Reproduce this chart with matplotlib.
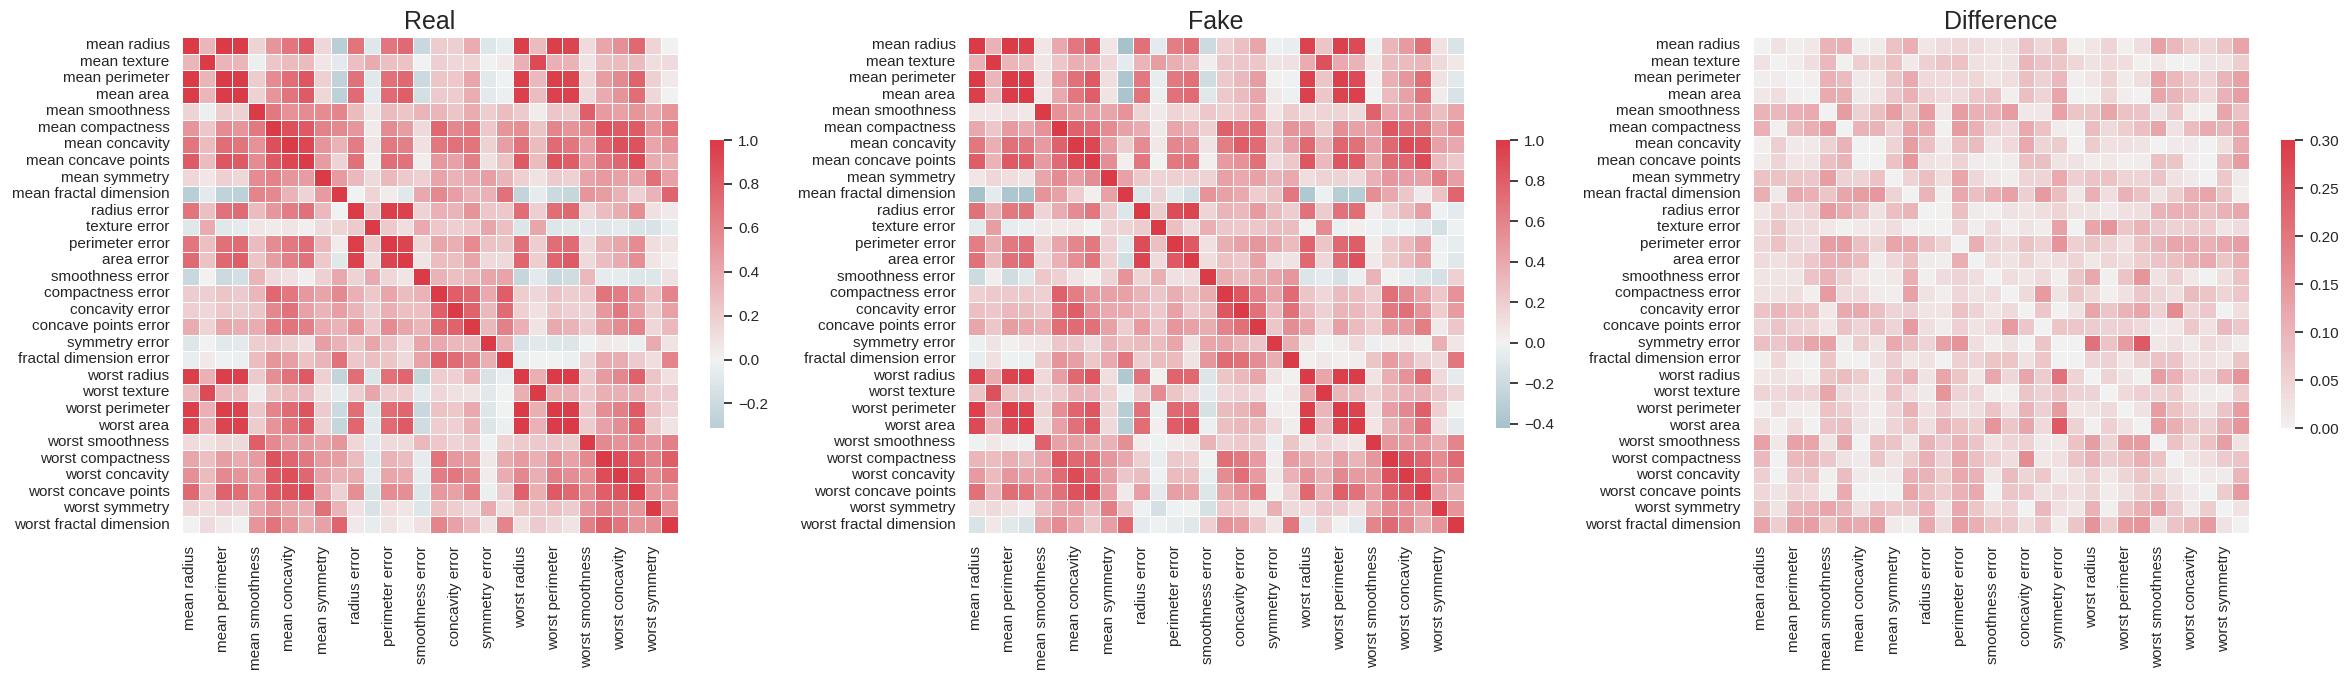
import numpy as np
import pandas as pd
import matplotlib
matplotlib.use("Agg")
import matplotlib.pyplot as plt
import seaborn as sns

FEATURES = [
    "mean radius", "mean texture", "mean perimeter", "mean area", "mean smoothness",
    "mean compactness", "mean concavity", "mean concave points", "mean symmetry",
    "mean fractal dimension", "radius error", "texture error", "perimeter error",
    "area error", "smoothness error", "compactness error", "concavity error",
    "concave points error", "symmetry error", "fractal dimension error",
    "worst radius", "worst texture", "worst perimeter", "worst area",
    "worst smoothness", "worst compactness", "worst concavity",
    "worst concave points", "worst symmetry", "worst fractal dimension",
]

# correlation of the real data, one row per feature
REAL = [
    [1.000, 0.324, 0.998, 0.987, 0.171, 0.506, 0.677, 0.823, 0.148, -0.312, 0.679, -0.097, 0.674, 0.736, -0.223, 0.206, 0.194, 0.376, -0.104, -0.043, 0.970, 0.297, 0.965, 0.941, 0.120, 0.413, 0.527, 0.744, 0.164, 0.007],
    [0.324, 1.000, 0.330, 0.321, -0.023, 0.237, 0.302, 0.293, 0.071, -0.076, 0.276, 0.386, 0.282, 0.260, 0.007, 0.192, 0.143, 0.164, 0.009, 0.054, 0.353, 0.912, 0.358, 0.344, 0.078, 0.278, 0.301, 0.295, 0.105, 0.119],
    [0.998, 0.330, 1.000, 0.987, 0.207, 0.557, 0.716, 0.851, 0.183, -0.261, 0.692, -0.087, 0.693, 0.745, -0.203, 0.251, 0.228, 0.407, -0.082, -0.005, 0.969, 0.303, 0.970, 0.942, 0.151, 0.456, 0.564, 0.771, 0.189, 0.051],
    [0.987, 0.321, 0.987, 1.000, 0.177, 0.499, 0.686, 0.823, 0.151, -0.283, 0.733, -0.066, 0.727, 0.800, -0.167, 0.213, 0.208, 0.372, -0.072, -0.020, 0.963, 0.287, 0.959, 0.959, 0.124, 0.390, 0.513, 0.722, 0.144, 0.004],
    [0.171, -0.023, 0.207, 0.177, 1.000, 0.659, 0.522, 0.554, 0.558, 0.585, 0.301, 0.068, 0.296, 0.247, 0.332, 0.319, 0.248, 0.381, 0.201, 0.284, 0.213, 0.036, 0.239, 0.207, 0.805, 0.472, 0.435, 0.503, 0.394, 0.499],
    [0.506, 0.237, 0.557, 0.499, 0.659, 1.000, 0.883, 0.831, 0.603, 0.565, 0.497, 0.046, 0.549, 0.456, 0.135, 0.739, 0.571, 0.642, 0.230, 0.507, 0.535, 0.248, 0.590, 0.510, 0.566, 0.866, 0.816, 0.816, 0.510, 0.687],
    [0.677, 0.302, 0.716, 0.686, 0.522, 0.883, 1.000, 0.921, 0.501, 0.337, 0.632, 0.076, 0.660, 0.617, 0.099, 0.670, 0.691, 0.683, 0.178, 0.449, 0.688, 0.300, 0.730, 0.676, 0.449, 0.755, 0.884, 0.861, 0.409, 0.515],
    [0.823, 0.293, 0.851, 0.823, 0.554, 0.831, 0.921, 1.000, 0.462, 0.167, 0.698, 0.021, 0.711, 0.690, 0.028, 0.490, 0.439, 0.616, 0.095, 0.258, 0.830, 0.293, 0.856, 0.810, 0.453, 0.667, 0.752, 0.910, 0.376, 0.369],
    [0.148, 0.071, 0.183, 0.151, 0.558, 0.603, 0.501, 0.462, 1.000, 0.480, 0.303, 0.128, 0.314, 0.224, 0.187, 0.422, 0.343, 0.393, 0.449, 0.332, 0.186, 0.091, 0.219, 0.177, 0.427, 0.473, 0.434, 0.430, 0.700, 0.438],
    [-0.312, -0.076, -0.261, -0.283, 0.585, 0.565, 0.337, 0.167, 0.480, 1.000, 0.000, 0.164, 0.040, -0.090, 0.402, 0.560, 0.447, 0.341, 0.345, 0.688, -0.254, -0.051, -0.205, -0.232, 0.505, 0.459, 0.346, 0.175, 0.334, 0.767],
    [0.679, 0.276, 0.692, 0.733, 0.301, 0.497, 0.632, 0.698, 0.303, 0.000, 1.000, 0.213, 0.973, 0.952, 0.165, 0.356, 0.332, 0.513, 0.241, 0.228, 0.715, 0.195, 0.720, 0.752, 0.142, 0.287, 0.381, 0.531, 0.095, 0.050],
    [-0.097, 0.386, -0.087, -0.066, 0.068, 0.046, 0.076, 0.021, 0.128, 0.164, 0.213, 1.000, 0.223, 0.112, 0.397, 0.232, 0.195, 0.230, 0.412, 0.280, -0.112, 0.409, -0.102, -0.083, -0.074, -0.092, -0.069, -0.120, -0.128, -0.046],
    [0.674, 0.282, 0.693, 0.727, 0.296, 0.549, 0.660, 0.711, 0.314, 0.040, 0.973, 0.223, 1.000, 0.938, 0.151, 0.416, 0.362, 0.556, 0.266, 0.244, 0.697, 0.200, 0.721, 0.731, 0.131, 0.342, 0.419, 0.555, 0.110, 0.085],
    [0.736, 0.260, 0.745, 0.800, 0.247, 0.456, 0.617, 0.690, 0.224, -0.090, 0.952, 0.112, 0.938, 1.000, 0.075, 0.285, 0.271, 0.416, 0.134, 0.127, 0.757, 0.196, 0.761, 0.811, 0.125, 0.283, 0.385, 0.538, 0.074, 0.018],
    [-0.223, 0.007, -0.203, -0.167, 0.332, 0.135, 0.099, 0.028, 0.187, 0.402, 0.165, 0.397, 0.151, 0.075, 1.000, 0.337, 0.269, 0.328, 0.414, 0.427, -0.231, -0.075, -0.217, -0.182, 0.314, -0.056, -0.058, -0.102, -0.107, 0.101],
    [0.206, 0.192, 0.251, 0.213, 0.319, 0.739, 0.670, 0.490, 0.422, 0.560, 0.356, 0.232, 0.416, 0.285, 0.337, 1.000, 0.801, 0.744, 0.395, 0.803, 0.205, 0.143, 0.261, 0.199, 0.227, 0.679, 0.639, 0.483, 0.278, 0.591],
    [0.194, 0.143, 0.228, 0.208, 0.248, 0.571, 0.691, 0.439, 0.343, 0.447, 0.332, 0.195, 0.362, 0.271, 0.269, 0.801, 1.000, 0.772, 0.309, 0.727, 0.187, 0.100, 0.227, 0.188, 0.168, 0.485, 0.663, 0.440, 0.198, 0.439],
    [0.376, 0.164, 0.407, 0.372, 0.381, 0.642, 0.683, 0.616, 0.393, 0.341, 0.513, 0.230, 0.556, 0.416, 0.328, 0.744, 0.772, 1.000, 0.313, 0.611, 0.358, 0.087, 0.395, 0.342, 0.215, 0.453, 0.550, 0.602, 0.143, 0.311],
    [-0.104, 0.009, -0.082, -0.072, 0.201, 0.230, 0.178, 0.095, 0.449, 0.345, 0.241, 0.412, 0.266, 0.134, 0.414, 0.395, 0.309, 0.313, 1.000, 0.369, -0.128, -0.077, -0.104, -0.110, -0.013, 0.060, 0.037, -0.030, 0.389, 0.078],
    [-0.043, 0.054, -0.005, -0.020, 0.284, 0.507, 0.449, 0.258, 0.332, 0.688, 0.228, 0.280, 0.244, 0.127, 0.427, 0.803, 0.727, 0.611, 0.369, 1.000, -0.037, -0.003, -0.001, -0.023, 0.171, 0.390, 0.380, 0.215, 0.111, 0.591],
    [0.970, 0.353, 0.969, 0.963, 0.213, 0.535, 0.688, 0.830, 0.186, -0.254, 0.715, -0.112, 0.697, 0.757, -0.231, 0.205, 0.187, 0.358, -0.128, -0.037, 1.000, 0.360, 0.994, 0.984, 0.217, 0.476, 0.574, 0.787, 0.244, 0.093],
    [0.297, 0.912, 0.303, 0.287, 0.036, 0.248, 0.300, 0.293, 0.091, -0.051, 0.195, 0.409, 0.200, 0.196, -0.075, 0.143, 0.100, 0.087, -0.077, -0.003, 0.360, 1.000, 0.365, 0.346, 0.225, 0.361, 0.368, 0.360, 0.233, 0.219],
    [0.965, 0.358, 0.970, 0.959, 0.239, 0.590, 0.730, 0.856, 0.219, -0.205, 0.720, -0.102, 0.721, 0.761, -0.217, 0.261, 0.227, 0.395, -0.104, -0.001, 0.994, 0.365, 1.000, 0.978, 0.237, 0.529, 0.618, 0.816, 0.270, 0.139],
    [0.941, 0.344, 0.942, 0.959, 0.207, 0.510, 0.676, 0.810, 0.177, -0.232, 0.752, -0.083, 0.731, 0.811, -0.182, 0.199, 0.188, 0.342, -0.110, -0.023, 0.984, 0.346, 0.978, 1.000, 0.209, 0.438, 0.543, 0.747, 0.209, 0.080],
    [0.120, 0.078, 0.151, 0.124, 0.805, 0.566, 0.449, 0.453, 0.427, 0.505, 0.142, -0.074, 0.131, 0.125, 0.314, 0.227, 0.168, 0.215, -0.013, 0.171, 0.217, 0.225, 0.237, 0.209, 1.000, 0.568, 0.518, 0.548, 0.494, 0.618],
    [0.413, 0.278, 0.456, 0.390, 0.472, 0.866, 0.755, 0.667, 0.473, 0.459, 0.287, -0.092, 0.342, 0.283, -0.056, 0.679, 0.485, 0.453, 0.060, 0.390, 0.476, 0.361, 0.529, 0.438, 0.568, 1.000, 0.892, 0.801, 0.614, 0.810],
    [0.527, 0.301, 0.564, 0.513, 0.435, 0.816, 0.884, 0.752, 0.434, 0.346, 0.381, -0.069, 0.419, 0.385, -0.058, 0.639, 0.663, 0.550, 0.037, 0.380, 0.574, 0.368, 0.618, 0.543, 0.518, 0.892, 1.000, 0.855, 0.533, 0.687],
    [0.744, 0.295, 0.771, 0.722, 0.503, 0.816, 0.861, 0.910, 0.430, 0.175, 0.531, -0.120, 0.555, 0.538, -0.102, 0.483, 0.440, 0.602, -0.030, 0.215, 0.787, 0.360, 0.816, 0.747, 0.548, 0.801, 0.855, 1.000, 0.503, 0.511],
    [0.164, 0.105, 0.189, 0.144, 0.394, 0.510, 0.409, 0.376, 0.700, 0.334, 0.095, -0.128, 0.110, 0.074, -0.107, 0.278, 0.198, 0.143, 0.389, 0.111, 0.244, 0.233, 0.270, 0.209, 0.494, 0.614, 0.533, 0.503, 1.000, 0.538],
    [0.007, 0.119, 0.051, 0.004, 0.499, 0.687, 0.515, 0.369, 0.438, 0.767, 0.050, -0.046, 0.085, 0.018, 0.101, 0.591, 0.439, 0.311, 0.078, 0.591, 0.093, 0.219, 0.139, 0.080, 0.618, 0.810, 0.687, 0.511, 0.538, 1.000],
]

# correlation of the synthetic data, upper triangle (row i holds columns i+1 .. 29)
FAKE_UPPER = [
    [0.35, 0.99, 0.97, 0.07, 0.40, 0.67, 0.81, 0.07, -0.42, 0.70, -0.06, 0.63, 0.70, -0.20, 0.18, 0.27, 0.42, -0.02, -0.04, 0.95, 0.25, 0.96, 0.91, -0.01, 0.32, 0.47, 0.70, 0.09, -0.12],
    [0.32, 0.29, 0.07, 0.24, 0.36, 0.34, 0.15, -0.06, 0.33, 0.46, 0.36, 0.29, 0.03, 0.22, 0.24, 0.24, 0.08, 0.10, 0.38, 0.87, 0.39, 0.34, 0.06, 0.28, 0.30, 0.32, 0.13, 0.06],
    [0.98, 0.10, 0.47, 0.70, 0.83, 0.11, -0.38, 0.65, -0.05, 0.65, 0.70, -0.18, 0.22, 0.31, 0.46, 0.01, -0.01, 0.95, 0.25, 0.96, 0.91, 0.02, 0.36, 0.50, 0.72, 0.09, -0.08],
    [0.06, 0.39, 0.67, 0.80, 0.08, -0.39, 0.68, -0.03, 0.69, 0.73, -0.09, 0.22, 0.29, 0.42, 0.05, -0.02, 0.96, 0.24, 0.95, 0.96, 0.00, 0.29, 0.44, 0.68, 0.04, -0.13],
    [0.52, 0.47, 0.47, 0.42, 0.51, 0.16, 0.05, 0.16, 0.14, 0.23, 0.18, 0.23, 0.36, 0.07, 0.21, 0.14, 0.16, 0.16, 0.13, 0.78, 0.40, 0.44, 0.50, 0.27, 0.42],
    [0.78, 0.73, 0.55, 0.44, 0.38, 0.05, 0.41, 0.35, 0.19, 0.78, 0.69, 0.72, 0.24, 0.51, 0.45, 0.21, 0.53, 0.43, 0.44, 0.84, 0.73, 0.70, 0.41, 0.56],
    [0.92, 0.45, 0.20, 0.55, 0.06, 0.58, 0.53, 0.08, 0.63, 0.81, 0.73, 0.24, 0.45, 0.75, 0.33, 0.76, 0.70, 0.45, 0.74, 0.90, 0.86, 0.44, 0.40],
    [0.54, 0.02, 0.67, 0.00, 0.66, 0.68, 0.02, 0.48, 0.52, 0.70, 0.12, 0.23, 0.84, 0.31, 0.85, 0.82, 0.37, 0.74, 0.76, 0.91, 0.29, 0.23],
    [0.43, 0.22, 0.16, 0.19, 0.18, 0.17, 0.43, 0.39, 0.44, 0.33, 0.39, 0.11, 0.17, 0.17, 0.13, 0.35, 0.50, 0.45, 0.43, 0.63, 0.45],
    [-0.10, 0.17, -0.08, -0.17, 0.51, 0.43, 0.39, 0.20, 0.26, 0.67, -0.36, -0.02, -0.31, -0.31, 0.53, 0.40, 0.24, 0.05, 0.26, 0.76],
    [0.21, 0.89, 0.94, 0.16, 0.33, 0.31, 0.48, 0.29, 0.20, 0.69, 0.21, 0.69, 0.72, 0.04, 0.18, 0.28, 0.45, -0.01, -0.07],
    [0.27, 0.12, 0.36, 0.24, 0.22, 0.24, 0.28, 0.28, 0.01, 0.56, -0.03, 0.02, -0.01, -0.04, -0.01, -0.06, -0.15, -0.01],
    [0.83, 0.10, 0.37, 0.44, 0.50, 0.42, 0.30, 0.77, 0.25, 0.75, 0.81, 0.03, 0.22, 0.30, 0.45, -0.01, -0.05],
    [0.11, 0.26, 0.22, 0.44, 0.10, 0.08, 0.74, 0.15, 0.73, 0.87, 0.05, 0.20, 0.28, 0.42, 0.00, -0.09],
    [0.37, 0.29, 0.37, 0.42, 0.50, -0.11, -0.07, -0.14, -0.03, 0.34, 0.00, -0.04, -0.10, -0.14, 0.18],
    [0.84, 0.60, 0.42, 0.73, 0.25, 0.15, 0.29, 0.27, 0.18, 0.71, 0.55, 0.41, 0.23, 0.52],
    [0.70, 0.31, 0.70, 0.31, 0.175, 0.33, 0.31, 0.22, 0.65, 0.71, 0.51, 0.20, 0.47],
    [0.24, 0.54, 0.42, 0.14, 0.45, 0.30, 0.20, 0.47, 0.48, 0.63, 0.05, 0.24],
    [0.37, 0.08, 0.00, 0.04, 0.14, -0.03, 0.03, 0.05, 0.01, 0.36, 0.07],
    [0.01, 0.05, 0.02, 0.03, 0.25, 0.465, 0.35, 0.185, 0.13, 0.665],
    [0.41, 0.97, 0.98, 0.08, 0.37, 0.52, 0.74, 0.14, -0.06],
    [0.325, 0.29, 0.175, 0.30, 0.35, 0.35, 0.24, 0.16],
    [0.95, 0.10, 0.45, 0.57, 0.79, 0.195, 0.00],
    [0.07, 0.33, 0.47, 0.69, 0.10, -0.07],
    [0.49, 0.48, 0.47, 0.36, 0.59],
    [0.87, 0.77, 0.55, 0.735],
    [0.84, 0.52, 0.59],
    [0.44, 0.37],
    [0.51],
]

n = len(FEATURES)
real = np.array(REAL)
fake = np.eye(n)
for i, row in enumerate(FAKE_UPPER):
    fake[i, i + 1:] = row
    fake[i + 1:, i] = row
diff = np.abs(real - fake)

real_df = pd.DataFrame(real, index=FEATURES, columns=FEATURES)
fake_df = pd.DataFrame(fake, index=FEATURES, columns=FEATURES)
diff_df = pd.DataFrame(diff, index=FEATURES, columns=FEATURES)

plt.rcParams['font.family'] = ['Liberation Sans', 'DejaVu Sans']
plt.rcParams['text.color'] = '#262626'
plt.rcParams['xtick.color'] = '#262626'
plt.rcParams['ytick.color'] = '#262626'

W, H = 2348, 681
fig = plt.figure(figsize=(W / 100, H / 100), dpi=100)


def px_axes(x0, y0, w, h):
    return fig.add_axes([x0 / W, 1 - (y0 + h) / H, w / W, h / H])


cmap = sns.diverging_palette(220, 10, as_cmap=True)

panels = [
    ("Real", real_df, 182, 710, {}),
    ("Fake", fake_df, 968, 1496, {}),
    ("Difference", diff_df, 1753, 2281, {"vmin": 0, "vmax": 0.3}),
]

for title, df, ax_x, cb_x, lims in panels:
    ax = px_axes(ax_x, 37, 496, 496)
    cax = px_axes(cb_x, 140, 14, 288)
    sns.heatmap(df, ax=ax, cbar_ax=cax, cmap=cmap, center=0, linewidths=.5,
                xticklabels=2, yticklabels=1, **lims)
    ax.set_title(title, fontsize=18)
    ax.tick_params(length=0, pad=9, labelsize=11)
    plt.setp(ax.get_xticklabels(), rotation=90)
    plt.setp(ax.get_yticklabels(), rotation=0)
    cax.tick_params(length=6, width=1.25, color='#262626', labelsize=11, pad=4)

fig.savefig("out.png", dpi=100)
